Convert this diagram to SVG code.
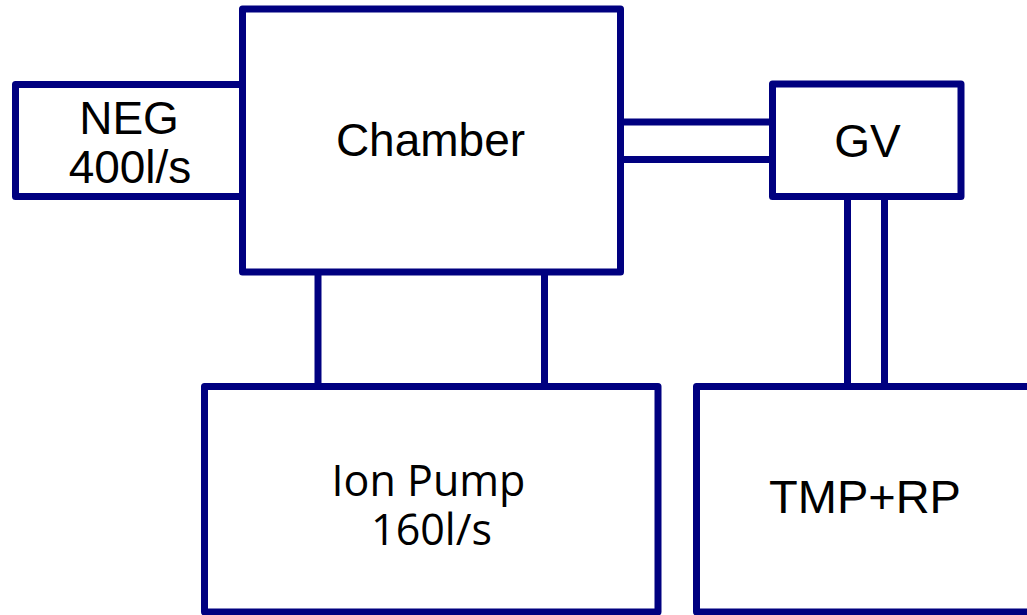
<svg xmlns="http://www.w3.org/2000/svg" width="1027" height="615" viewBox="0 0 1027 615">
<style>
.box{fill:#ffffff;stroke:#000080;stroke-width:7;stroke-linejoin:round}
.pipe{stroke:#000080;stroke-width:7;fill:none}
.t{font-family:"Liberation Sans",Arial,sans-serif;font-size:46px;fill:#000000;text-anchor:middle}
.t2{font-family:"Open Sans","Noto Sans",sans-serif;font-size:43px;fill:#000000;text-anchor:middle}
</style>
<rect width="1027" height="615" fill="#ffffff"/>
<g id="connectors">
<line class="pipe" x1="620" y1="122" x2="773" y2="122"/>
<line class="pipe" x1="620" y1="159.5" x2="773" y2="159.5"/>
<line class="pipe" x1="847.5" y1="196" x2="847.5" y2="387"/>
<line class="pipe" x1="884.5" y1="196" x2="884.5" y2="387"/>
<line class="pipe" x1="318" y1="272" x2="318" y2="387"/>
<line class="pipe" x1="544.5" y1="272" x2="544.5" y2="387"/>
</g>
<g id="neg">
<rect class="box" x="15.5" y="84.5" width="227" height="112"/>
<text class="t" x="129" y="134">NEG</text>
<text class="t" x="130" y="183">400l/s</text>
</g>
<g id="chamber">
<rect class="box" x="242.5" y="9" width="378" height="263"/>
<text class="t" x="430.5" y="156">Chamber</text>
</g>
<g id="gv">
<rect class="box" x="772.5" y="84" width="188.5" height="112.5"/>
<text class="t" x="867.5" y="156.5">GV</text>
</g>
<g id="ionpump">
<rect class="box" x="204.5" y="386.5" width="453.5" height="225.5"/>
<text class="t2" x="428.5" y="496">Ion Pump</text>
<text class="t2" x="431.5" y="545">160l/s</text>
</g>
<g id="tmprp">
<rect class="box" x="696.5" y="386.5" width="345" height="225.5"/>
<text class="t" x="865" y="513" style="font-size:47px">TMP+RP</text>
</g>
</svg>
